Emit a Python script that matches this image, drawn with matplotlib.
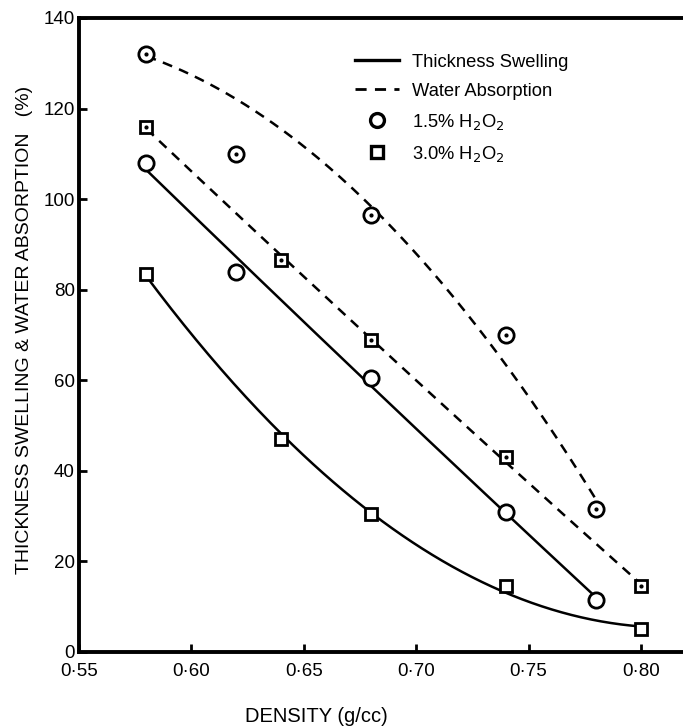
import numpy as np
import matplotlib
matplotlib.use('Agg')
from matplotlib import pyplot as plt
from matplotlib.lines import Line2D

plt.rcParams['font.family'] = ['Liberation Sans', 'DejaVu Sans']

# density (g/cc)
dens_15 = [0.58, 0.62, 0.68, 0.74, 0.78]
dens_30 = [0.58, 0.64, 0.68, 0.74, 0.80]

# water absorption (%)
wa_15 = [132, 110, 96.5, 70, 31.5]
wa_30 = [116, 86.5, 69, 43, 14.5]

# thickness swelling (%)
ts_15 = [108, 84, 60.5, 31, 11.5]
ts_30 = [83.5, 47, 30.5, 14.5, 5]

xticks = [0.55, 0.60, 0.65, 0.70, 0.75, 0.80]
xtick_labels = ['0·55', '0·60', '0·65', '0·70', '0·75', '0·80']
yticks = [0, 20, 40, 60, 80, 100, 120, 140]

fig = plt.figure(figsize=(6.83, 7.28), dpi=100)
ax = fig.add_axes([0.1157, 0.1044, 0.8843, 0.8709])

def fitted(x, y, ls, w=None):
    # smooth hand-drawn style curve: weighted quadratic fit
    c = np.polyfit(x, y, 2, w=w)
    xs = np.linspace(x[0], x[-1], 200)
    ax.plot(xs, np.polyval(c, xs), color='black', lw=1.8, ls=ls, zorder=2)

dash = (0, (4, 3))
fitted(dens_15, wa_15, dash, w=[4, 1, 1, 1.5, 2])
fitted(dens_30, wa_30, dash)
fitted(dens_15, ts_15, '-')
fitted(dens_30, ts_30, '-')

mk = dict(ls='none', mfc='white', mec='black', mew=2, zorder=3)
ax.plot(dens_15, wa_15, marker='o', ms=11, **mk)
ax.plot(dens_30, wa_30, marker='s', ms=9, **mk)
ax.plot(dens_15, ts_15, marker='o', ms=11, **mk)
ax.plot(dens_30, ts_30, marker='s', ms=9, **mk)
# centre dots on water absorption points
ax.plot(dens_15, wa_15, ls='none', marker='o', ms=2, color='black', zorder=4)
ax.plot(dens_30, wa_30, ls='none', marker='o', ms=2, color='black', zorder=4)

ax.set_xlim(0.55, 0.8187)
ax.set_ylim(0, 140)
ax.set_xticks(xticks)
ax.set_xticklabels(xtick_labels)
ax.set_yticks(yticks)
ax.tick_params(direction='in', length=5.5, width=2, labelsize=13.5)
ax.tick_params(axis='x', pad=8)
ax.tick_params(axis='y', pad=3)
for s in ['left', 'bottom', 'top']:
    ax.spines[s].set_linewidth(2.8)
ax.spines['right'].set_visible(False)

fig.text(25 / 683, 1 - 330 / 728, 'THICKNESS SWELLING & WATER ABSORPTION   (%)',
         rotation=90, ha='center', va='center', fontsize=14)
fig.text(316 / 683, 1 - 716 / 728, 'DENSITY (g/cc)', ha='center', va='center', fontsize=14.5)

handles = [
    Line2D([], [], color='black', lw=2.4),
    Line2D([], [], color='black', lw=2, ls=dash),
    Line2D([], [], ls='none', marker='o', ms=10, mfc='white', mec='black', mew=2.4),
    Line2D([], [], ls='none', marker='s', ms=8, mfc='white', mec='black', mew=2.4),
]
labels = ['Thickness Swelling', 'Water Absorption',
          '1.5% H$_2$O$_2$', '3.0% H$_2$O$_2$']
ax.legend(handles, labels, loc='upper left', bbox_to_anchor=(0.43, 0.97),
          frameon=False, fontsize=13.2, handlelength=2.4, handletextpad=0.7,
          labelspacing=0.66)

fig.savefig('out.png', dpi=100)
